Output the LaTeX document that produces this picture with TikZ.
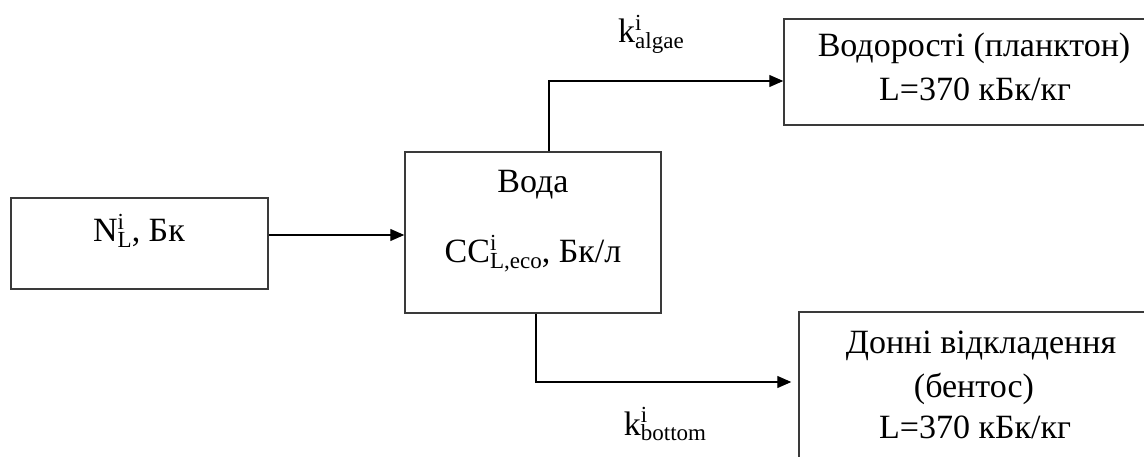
\documentclass[tikz,border=0pt]{standalone}
\usepackage{fontspec}
\setmainfont{Liberation Serif}
\usetikzlibrary{arrows.meta}
\definecolor{boxgray}{HTML}{3A3A3A}
\newcommand{\scrsz}{\fontsize{23}{23}\selectfont}
\newcommand{\supsubsc}[2]{\rlap{\raisebox{0.36em}{\scrsz #1}}\raisebox{-0.15em}{\scrsz #2}}
\begin{document}
\begin{tikzpicture}[x=1pt,y=-1pt,
  font=\fontsize{34}{40}\selectfont,
  box/.style={draw=boxgray,line width=1.5pt,inner sep=0pt},
  arr/.style={draw=black,line width=1.3pt,-{Triangle[length=14pt,width=12pt]}},
  txt/.style={anchor=base,inner sep=0pt}]
\useasboundingbox (0,0) rectangle (1144,457);
\clip (0,0) rectangle (1144,457);
% boxes
\node[box,minimum width=257pt,minimum height=91pt] (src) at (139.5,243.5) {};
\node[box,minimum width=256pt,minimum height=161pt] (wat) at (533,232.5) {};
\node[box,minimum width=382pt,minimum height=106pt] (alg) at (975,72) {};
\node[box,minimum width=352pt,minimum height=168pt] (ben) at (975,396) {};
% texts
\node[txt] (tsrc) at (139,242) {N\supsubsc{i}{L}, Бк};
\node[txt] (twat1) at (533,193) {Вода};
\node[txt] (twat2) at (533,263) {CC\supsubsc{i}{L,eco}, Бк/л};
\node[txt] (talg1) at (974,57) {Водорості (планктон)};
\node[txt] (talg2) at (975,101) {L=370 кБк/кг};
\node[txt] (tben1) at (981,353) {Донні відкладення};
\node[txt] (tben2) at (974,397) {(бентос)};
\node[txt] (tben3) at (975,438) {L=370 кБк/кг};
\node[txt] (kalg) at (651,43) {k\supsubsc{i}{algae}};
\node[txt] (kbot) at (665,435) {k\supsubsc{i}{bottom}};
% connectors
\coordinate (a1) at (268,235);
\coordinate (upx) at (549,81);
\coordinate (dnx) at (536,382);
\draw[arr] (src.east |- a1) -- (wat.west |- a1);
\draw[arr] (wat.north -| upx) |- (alg.west |- upx);
\draw[arr,shorten >=7pt] (wat.south -| dnx) |- (ben.west |- dnx);
\end{tikzpicture}
\end{document}
